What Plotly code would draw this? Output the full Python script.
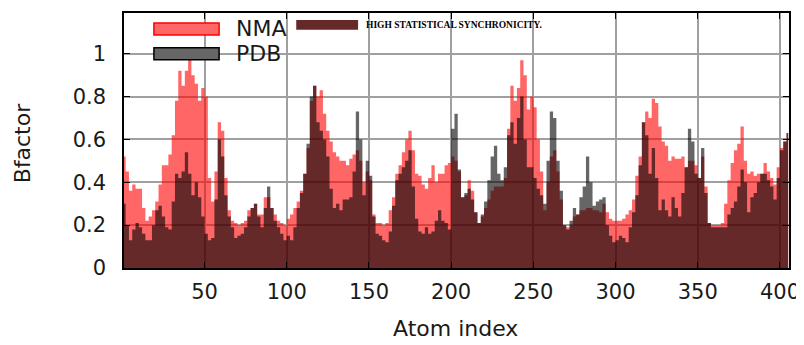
import plotly.graph_objects as go

# atom index samples (every 2 atoms)
atoms = list(range(1, 406, 2))

nma = [
    0.52,0.45,0.36,0.39,0.37,0.37,0.28,0.22,0.24,0.27,0.31,0.39,0.48,0.48,0.53,0.62,0.78,0.92,0.85,0.92,
    0.98,0.90,0.86,0.78,0.84,0.80,0.42,0.31,0.45,0.68,
    0.64,0.42,0.27,0.22,0.21,0.20,0.21,0.22,0.27,0.28,0.30,0.25,0.25,0.33,0.33,0.28,0.25,0.22,0.21,0.20,
    0.23,0.25,0.28,0.31,0.36,0.44,0.56,0.78,0.85,
    0.80,0.83,0.72,0.64,0.59,0.54,0.52,0.50,0.50,0.48,0.51,0.53,0.55,0.50,0.40,0.45,0.41,0.25,0.21,0.21,
    0.20,0.21,0.27,0.33,0.44,0.48,0.54,0.60,0.64,
    0.55,0.44,0.43,0.39,0.37,0.42,0.48,0.40,0.44,0.44,0.48,0.49,0.52,0.50,0.45,0.33,0.34,0.41,0.36,0.26,
    0.21,0.24,0.28,0.32,0.36,0.38,0.38,0.38,0.42,
    0.65,0.85,0.78,0.84,0.97,0.90,0.74,0.80,0.75,0.60,0.45,0.27,0.40,0.52,0.55,0.45,0.32,0.20,0.19,0.20,
    0.24,0.25,0.27,0.27,0.28,0.28,0.27,0.27,0.26,
    0.30,0.26,0.23,0.22,0.22,0.22,0.23,0.25,0.27,0.32,0.43,0.52,0.68,0.73,0.70,0.79,0.77,0.66,0.59,0.57,
    0.50,0.52,0.51,0.51,0.52,0.47,0.50,0.50,0.48,
    0.42,0.52,0.38,0.21,0.20,0.20,0.20,0.21,0.30,0.41,0.49,0.55,0.58,0.66,0.50,0.44,0.45,0.43,0.44,0.44,
    0.49,0.45,0.42,0.39,0.47,0.56,0.59,0.63,
]

pdb = [
    0.30,0.20,0.13,0.18,0.21,0.19,0.16,0.13,0.13,0.20,0.27,0.29,0.24,0.19,0.18,0.31,0.44,0.42,0.45,0.54,
    0.44,0.34,0.40,0.33,0.24,0.16,0.13,0.14,0.32,0.60,
    0.52,0.34,0.24,0.19,0.14,0.15,0.16,0.19,0.24,0.28,0.30,0.24,0.19,0.28,0.38,0.28,0.22,0.19,0.16,0.13,
    0.15,0.13,0.19,0.28,0.35,0.44,0.58,0.80,0.85,
    0.68,0.64,0.60,0.52,0.37,0.28,0.30,0.27,0.32,0.32,0.33,0.45,0.73,0.60,0.34,0.50,0.43,0.24,0.16,0.15,
    0.13,0.12,0.17,0.29,0.41,0.44,0.47,0.50,0.55,
    0.38,0.23,0.17,0.16,0.19,0.16,0.17,0.22,0.27,0.22,0.21,0.18,0.65,0.72,0.46,0.33,0.35,0.37,0.32,0.26,
    0.21,0.25,0.31,0.41,0.52,0.57,0.44,0.41,0.47,
    0.62,0.68,0.58,0.70,0.80,0.60,0.47,0.47,0.42,0.37,0.34,0.30,0.50,0.73,0.70,0.50,0.36,0.20,0.18,0.22,
    0.28,0.25,0.33,0.38,0.52,0.40,0.29,0.31,0.32,
    0.33,0.20,0.15,0.12,0.13,0.15,0.14,0.12,0.19,0.26,0.34,0.48,0.68,0.62,0.44,0.56,0.42,0.27,0.32,0.27,
    0.24,0.33,0.28,0.24,0.35,0.47,0.65,0.59,0.44,
    0.42,0.56,0.35,0.21,0.19,0.19,0.19,0.19,0.19,0.25,0.28,0.31,0.38,0.46,0.40,0.26,0.33,0.35,0.40,0.44,
    0.44,0.41,0.38,0.32,0.42,0.55,0.59,0.63,
]

x_ticks = [50, 100, 150, 200, 250, 300, 350, 400]
y_ticks = [0, 0.2, 0.4, 0.6, 0.8, 1.0]
y_tick_text = ["0", "0.2", "0.4", "0.6", "0.8", "1"]

NMA_FILL = "rgba(255,0,0,0.6)"
PDB_FILL = "rgba(0,0,0,0.6)"
FONT = "DejaVu Sans"

fig = go.Figure()
fig.add_trace(go.Scatter(x=atoms, y=nma, mode="lines", line=dict(width=0, shape="hvh"),
                         fill="tozeroy", fillcolor=NMA_FILL, name="NMA", hoverinfo="skip"))
fig.add_trace(go.Scatter(x=atoms, y=pdb, mode="lines", line=dict(width=0, shape="hvh"),
                         fill="tozeroy", fillcolor=PDB_FILL, name="PDB", hoverinfo="skip"))

axis_common = dict(showgrid=True, gridcolor="#a0a0a0", gridwidth=1.5, zeroline=False,
                   showline=True, linecolor="black", linewidth=1.5, mirror="ticks",
                   ticks="inside", ticklen=6, tickwidth=1, tickcolor="black",
                   tickfont=dict(family=FONT, size=21, color="#1a1a1a"))

fig.update_xaxes(range=[1, 405.5], tickvals=x_ticks, ticklabelstandoff=4, **axis_common)
fig.update_yaxes(range=[0, 1.19], tickvals=y_ticks, ticktext=y_tick_text,
                 ticklabelstandoff=12, **axis_common)

shapes = [
    # legend background (hides grid, not data)
    dict(type="rect", xref="paper", yref="paper", x0=0.024, x1=0.144, y0=0.80, y1=1.0,
         fillcolor="white", line=dict(width=0), layer="between"),
    dict(type="rect", xref="paper", yref="paper", x0=0.045, x1=0.143, y0=0.914, y1=0.961,
         fillcolor="rgb(255,102,102)", line=dict(color="red", width=1.5), layer="above"),
    dict(type="rect", xref="paper", yref="paper", x0=0.045, x1=0.143, y0=0.817, y1=0.864,
         fillcolor="rgb(102,102,102)", line=dict(color="black", width=1.5), layer="above"),
    dict(type="rect", xref="paper", yref="paper", x0=0.259, x1=0.352, y0=0.934, y1=0.973,
         fillcolor="rgb(102,41,41)", line=dict(width=0), layer="above"),
]

annotations = [
    dict(text="NMA", xref="paper", yref="paper", x=0.165, y=0.938, xanchor="left", yanchor="middle",
         showarrow=False, font=dict(family=FONT, size=22, color="#1a1a1a")),
    dict(text="PDB", xref="paper", yref="paper", x=0.165, y=0.840, xanchor="left", yanchor="middle",
         showarrow=False, font=dict(family=FONT, size=22, color="#1a1a1a")),
    dict(text="<b>HIGH STATISTICAL SYNCHRONICITY.</b>", xref="paper", yref="paper", x=0.361, y=0.951,
         xanchor="left", yanchor="middle", showarrow=False,
         font=dict(family="Liberation Serif", size=9.5, color="black")),
    dict(text="Atom index", xref="paper", yref="paper", x=0.498, y=-0.237, xanchor="center",
         yanchor="middle", showarrow=False, font=dict(family=FONT, size=22, color="#1a1a1a")),
    dict(text="Bfactor", xref="paper", yref="paper", x=-0.153, y=0.49, xanchor="center",
         yanchor="middle", textangle=-90, showarrow=False,
         font=dict(family=FONT, size=22, color="#1a1a1a")),
]

# page body adds an 8px offset, so the figure is sized 8px smaller and margins shifted
fig.update_layout(width=796, height=337, margin=dict(l=116, r=15, t=3, b=77),
                  paper_bgcolor="white", plot_bgcolor="white", showlegend=False,
                  shapes=shapes, annotations=annotations)

fig.write_html("out.html")
